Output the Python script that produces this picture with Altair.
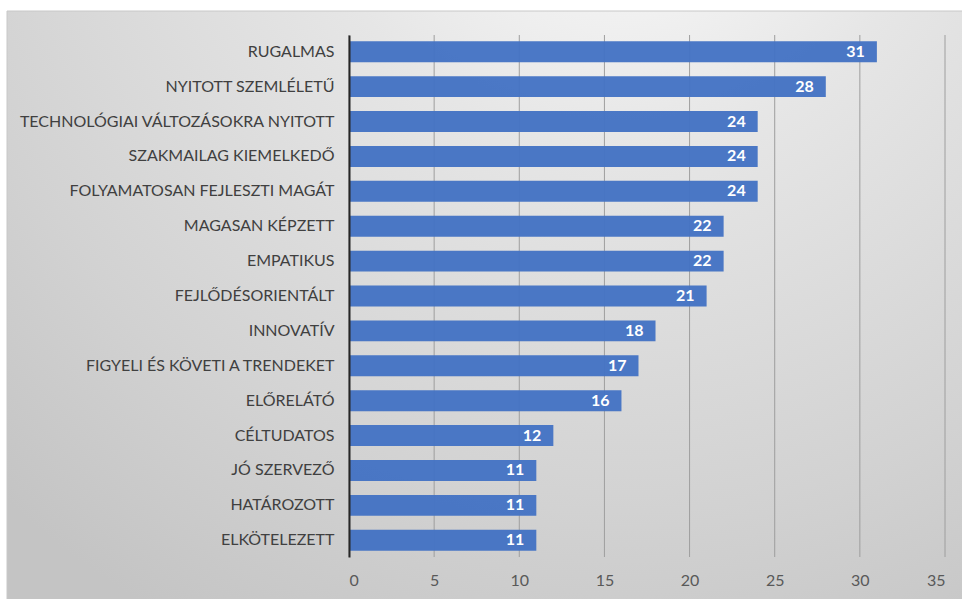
import altair as alt
import pandas as pd

categories = [
    "RUGALMAS",
    "NYITOTT SZEMLÉLETŰ",
    "TECHNOLÓGIAI VÁLTOZÁSOKRA NYITOTT",
    "SZAKMAILAG KIEMELKEDŐ",
    "FOLYAMATOSAN FEJLESZTI MAGÁT",
    "MAGASAN KÉPZETT",
    "EMPATIKUS",
    "FEJLŐDÉSORIENTÁLT",
    "INNOVATÍV",
    "FIGYELI ÉS KÖVETI A TRENDEKET",
    "ELŐRELÁTÓ",
    "CÉLTUDATOS",
    "JÓ SZERVEZŐ",
    "HATÁROZOTT",
    "ELKÖTELEZETT",
]
values = [31, 28, 24, 24, 24, 22, 22, 21, 18, 17, 16, 12, 11, 11, 11]
x_ticks = [0, 5, 10, 15, 20, 25, 30, 35]

df = pd.DataFrame({"cat": categories, "val": values})
ticks_df = pd.DataFrame({"t": x_ticks})

FONT = "Lato"
W, H = 596, 522
PL, PT, PR, PB = 349, 35, 17, 42

xscale = alt.Scale(domain=[0, 35], nice=False)

bg = alt.Chart(pd.DataFrame({"a": [0]})).mark_rect(
    fill={
        "gradient": "radial",
        "x1": 0.64, "y1": 0.0, "r1": 0.0,
        "x2": 0.64, "y2": 0.0, "r2": 0.95,
        "stops": [
            {"offset": 0.0, "color": "#ffffff"},
            {"offset": 0.35, "color": "#e6e6e6"},
            {"offset": 0.75, "color": "#d2d2d2"},
            {"offset": 1.0, "color": "#c4c4c4"},
        ],
    },
    stroke="#c8c8c8",
    strokeWidth=1,
).encode(
    x=alt.value(7 - PL),
    x2=alt.value(962 - PL + 5),
    y=alt.value(11 - PT),
    y2=alt.value(599 - PT + 5),
)

grid = alt.Chart(ticks_df).mark_rule(color="#9e9e9e", strokeWidth=1).encode(
    x=alt.X("t:Q", scale=xscale),
    y=alt.value(0),
    y2=alt.value(H),
)

y_enc = alt.Y(
    "cat:N",
    sort=categories,
    title=None,
    scale=alt.Scale(paddingInner=0.4, paddingOuter=0.18),
    axis=alt.Axis(
        domain=True,
        domainColor="#262626",
        domainWidth=2,
        ticks=False,
        labelPadding=15,
        labelFont=FONT,
        labelFontSize=16,
        labelColor="#404040",
        labelLimit=500,
        grid=False,
        zindex=1,
    ),
)
x_enc = alt.X(
    "val:Q",
    title=None,
    scale=xscale,
    axis=alt.Axis(
        values=x_ticks,
        grid=False,
        domain=False,
        ticks=False,
        labelPadding=15,
        labelFont=FONT,
        labelFontSize=16,
        labelColor="#595959",
        zindex=1,
    ),
)

bars = alt.Chart(df).mark_bar(color="#4472C4", opacity=0.96).encode(x=x_enc, y=y_enc)

labels = alt.Chart(df).mark_text(
    align="right",
    baseline="middle",
    dx=-12,
    color="white",
    font=FONT,
    fontSize=16,
    fontWeight="bold",
).encode(
    x=alt.X("val:Q", scale=xscale),
    y=alt.Y("cat:N", sort=categories),
    text="val:Q",
)

chart = (
    alt.layer(bg, grid, bars, labels)
    .properties(
        width=W,
        height=H,
        autosize="none",
        padding={"left": PL, "top": PT, "right": PR, "bottom": PB},
        background="white",
    )
    .configure_view(stroke=None)
)

chart.save("out.html", embed_options={"renderer": "svg", "actions": False})
